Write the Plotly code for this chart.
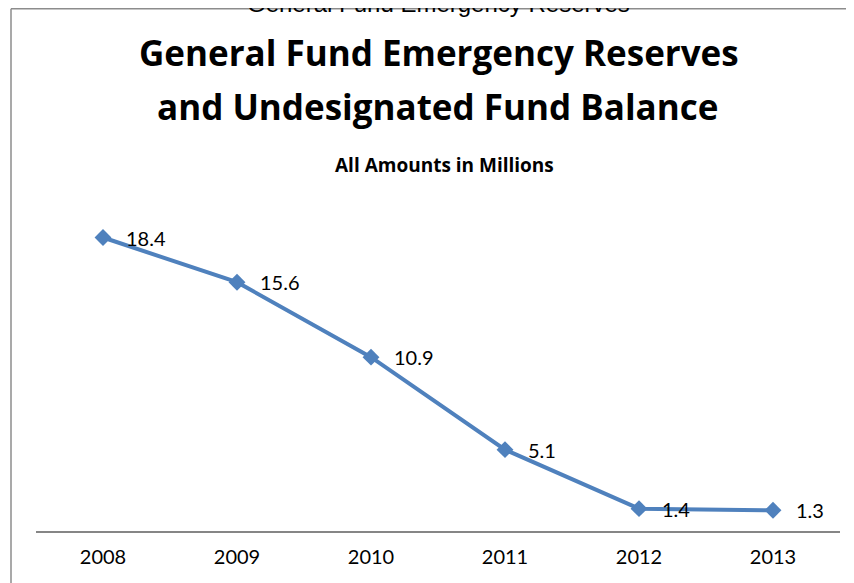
import plotly.graph_objects as go

years = ["2008", "2009", "2010", "2011", "2012", "2013"]
values = [18.4, 15.6, 10.9, 5.1, 1.4, 1.3]
labels = ["18.4", "15.6", "10.9", "5.1", "1.4", "1.3"]
page_title = "General Fund Emergency Reserves"
title_lines = ["General Fund Emergency Reserves", "and Undesignated Fund Balance"]
subtitle = "All Amounts in Millions"

W, H = 854, 583
L, R, T, B = 28, 22, 204, 60
ph = H - T - B
pw = W - L - R


def py(p):
    return (H - B - p) / ph


def px(p):
    return (p - L) / pw


BLUE = "#4F81BD"
FONT = "Lato"
TFONT = "Open Sans"

fig = go.Figure()
fig.add_trace(go.Scatter(
    x=years, y=values, mode="lines+markers",
    line=dict(color=BLUE, width=4),
    marker=dict(symbol="diamond", size=13, color=BLUE),
    hoverinfo="skip", showlegend=False, cliponaxis=False,
))

annotations = []
for i, (v, t) in enumerate(zip(values, labels)):
    annotations.append(dict(
        x=i, y=v, xref="x", yref="y", text=t, showarrow=False,
        xanchor="left", yanchor="middle", xshift=21,
        font=dict(family=FONT, size=20, color="#000000"),
    ))

annotations.append(dict(
    x=px(430), y=py(-4), xref="paper", yref="paper", text=page_title,
    showarrow=False, xanchor="center", yanchor="middle",
    font=dict(family="Liberation Sans", size=24, color="#000000"),
))
for line, cx, cy in zip(title_lines, [431, 429], [45, 99]):
    annotations.append(dict(
        x=px(cx), y=py(cy), xref="paper", yref="paper", text="<b>" + line + "</b>",
        showarrow=False, xanchor="center", yanchor="middle",
        font=dict(family=TFONT, size=35, color="#000000"),
    ))
annotations.append(dict(
    x=px(436), y=py(157), xref="paper", yref="paper", text="<b>" + subtitle + "</b>",
    showarrow=False, xanchor="center", yanchor="middle",
    font=dict(family=TFONT, size=19, color="#000000"),
))

shapes = [
    dict(type="line", xref="paper", yref="paper", x0=px(3), x1=px(W + 5), y0=py(0.8), y1=py(0.8),
         line=dict(color="#8C8C8C", width=1.5)),
    dict(type="line", xref="paper", yref="paper", x0=px(3), x1=px(3), y0=py(0.8), y1=py(H + 5),
         line=dict(color="#8C8C8C", width=1.5)),
]

fig.update_layout(
    width=W, height=H,
    margin=dict(l=L, r=R, t=T, b=B, pad=0),
    paper_bgcolor="white", plot_bgcolor="white",
    annotations=annotations, shapes=shapes,
    xaxis=dict(type="category", showline=True, linecolor="#868686", linewidth=2,
               showgrid=False, zeroline=False, ticks="", ticklabelstandoff=7,
               tickfont=dict(family=FONT, size=20, color="#000000"),
               range=[-0.5, 5.5]),
    yaxis=dict(range=[0, 20], showgrid=False, zeroline=False, showline=False,
               showticklabels=False, ticks=""),
)

fig.write_html("out.html")
